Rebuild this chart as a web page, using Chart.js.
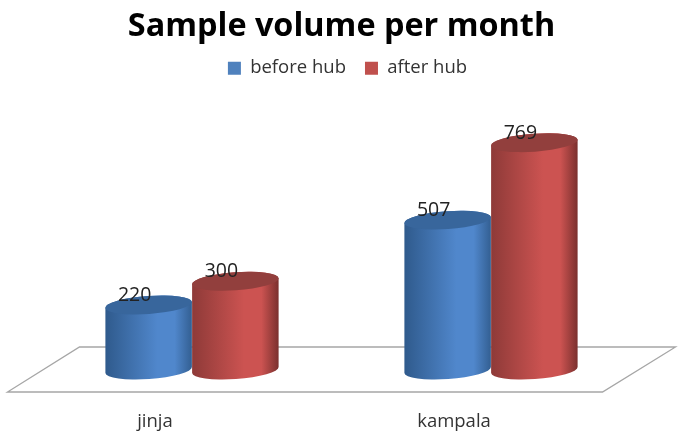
<!DOCTYPE html>
<html><head><meta charset="utf-8">
<style>html,body{margin:0;padding:0;background:#fff}canvas{display:block;filter:blur(0.45px)}</style>
<script src="https://cdn.jsdelivr.net/npm/chart.js@4/dist/chart.umd.min.js"></script>
</head><body><canvas id="c" width="684" height="438"></canvas>
<script>
const categories = ['jinja', 'kampala'];
const beforeHub = [220, 507];
const afterHub = [300, 769];
const titleText = 'Sample volume per month';

const palettes = [
  {edgeL:'#2f5a8c', mid:'#5087cc', edgeR:'#335f92', top:'#38669c'},
  {edgeL:'#8e3a38', mid:'#cc5351', edgeR:'#7a302e', top:'#923f3d'}
];
const cylinders = {
  id:'cylinders',
  afterLayout(chart){
    chart.legend.left += 6; chart.legend.right += 6;
  },
  beforeDatasetsDraw(chart){
    const {ctx, chartArea:a, scales:{y}} = chart;
    const y0 = y.getPixelForValue(0);
    ctx.save();
    ctx.strokeStyle='#a6a6a6'; ctx.lineWidth=1.3;
    ctx.beginPath();
    ctx.moveTo(a.left-35,y0+22); ctx.lineTo(a.right-38,y0+22);
    ctx.lineTo(a.right+35,y0-23); ctx.lineTo(a.left+37,y0-23);
    ctx.closePath(); ctx.stroke();
    ctx.restore();
  },
  beforeDatasetDraw(){ return false; },
  afterDatasetsDraw(chart){
    const ctx = chart.ctx, rot = -4*Math.PI/180;
    chart.data.datasets.forEach((ds,di)=>{
      const pal = palettes[di];
      chart.getDatasetMeta(di).data.forEach((bar,i)=>{
        const cx=bar.x, rx=bar.width/2, ry=9, yt=bar.y, yb=bar.base;
        const g=ctx.createLinearGradient(cx-rx,0,cx+rx,0);
        g.addColorStop(0,pal.edgeL); g.addColorStop(.6,pal.mid); g.addColorStop(.8,pal.mid); g.addColorStop(1,pal.edgeR);
        ctx.save();
        ctx.fillStyle=g;
        ctx.beginPath();
        ctx.ellipse(cx,yb,rx,ry,rot,0,Math.PI);
        ctx.ellipse(cx,yt,rx,ry,rot,Math.PI,2*Math.PI);
        ctx.closePath(); ctx.fill();
        ctx.fillStyle=pal.top;
        ctx.beginPath(); ctx.ellipse(cx,yt,rx,ry,rot,0,2*Math.PI); ctx.fill();
        ctx.restore();
      });
    });
    chart.data.datasets.forEach((ds,di)=>{
      chart.getDatasetMeta(di).data.forEach((bar,i)=>{
        ctx.save();
        ctx.fillStyle='#222'; ctx.font='19.5px "Open Sans"'; ctx.textAlign='center'; ctx.textBaseline='middle';
        ctx.fillText(String(ds.data[i]), bar.x-14, bar.y-9.5);
        ctx.restore();
      });
    });
  }
};
new Chart(document.getElementById('c'),{
  type:'bar',
  data:{labels:categories,datasets:[
    {label:'before hub',data:beforeHub,backgroundColor:'#4f81bd',borderWidth:0},
    {label:'after hub',data:afterHub,backgroundColor:'#c0504d',borderWidth:0}
  ]},
  plugins:[cylinders],
  options:{
    responsive:false,animation:false,
    layout:{padding:{left:42.5,right:43.5,top:0,bottom:0}},
    datasets:{bar:{categoryPercentage:.58,barPercentage:1}},
    plugins:{
      title:{display:true,text:titleText,color:'#000',font:{family:'"Open Sans"',size:32.4,weight:'bold'},padding:{top:7,bottom:-6}},
      legend:{display:true,position:'top',labels:{color:'#333',font:{family:'"Open Sans"',size:18.5},boxWidth:13,boxHeight:13,padding:19}},
      tooltip:{enabled:false}
    },
    scales:{
      x:{grid:{display:false},border:{display:false},
        ticks:{color:'#333',font:{family:'"Open Sans"',size:18.5},labelOffset:-37,padding:33,maxRotation:0},
        afterFit(s){s.height=68;}},
      y:{display:false,min:0,max:956}
    }
  }
});
</script></body></html>
